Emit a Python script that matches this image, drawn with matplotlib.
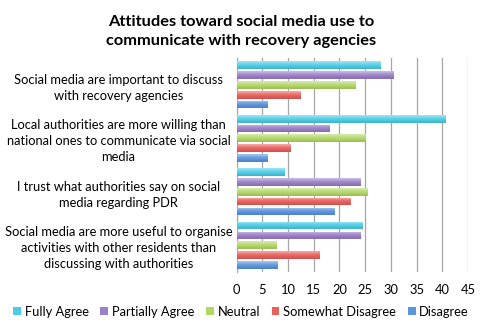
import matplotlib.pyplot as plt
import numpy as np
from matplotlib.colors import to_rgb

plt.rcParams["font.family"] = ["Lato", "DejaVu Sans"]

title = "Attitudes toward social media use to\ncommunicate with recovery agencies"
statements = [
    "Social media are important to discuss\nwith recovery agencies",
    "Local authorities are more willing than\nnational ones to communicate via social\nmedia",
    "I trust what authorities say on social\nmedia regarding PDR",
    "Social media are more useful to organise\nactivities with other residents than\ndiscussing with authorities",
]
responses = ["Fully Agree", "Partially Agree", "Neutral", "Somewhat Disagree", "Disagree"]
colors = ["#4ccde6", "#9a80c9", "#b3d767", "#e9605c", "#5b95dc"]

fully_agree = [28, 40.5, 9.3, 24.5]
partially_agree = [30.4, 18, 24, 24]
neutral = [23, 25, 25.4, 7.6]
somewhat_disagree = [12.4, 10.4, 22, 16]
disagree = [6, 6, 19, 7.8]
series = [fully_agree, partially_agree, neutral, somewhat_disagree, disagree]

fig = plt.figure(figsize=(4.82, 3.23), dpi=100)
ax = fig.add_axes([0.491, 0.158, 0.48, 0.662])

n = len(statements)
group_pos = np.arange(n)[::-1].astype(float)
step = 0.184
bar_h = 0.145


def shade(c, f):
    r, g, b = to_rgb(c)
    if f >= 0:
        return (r + (1 - r) * f, g + (1 - g) * f, b + (1 - b) * f)
    return (r * (1 + f), g * (1 + f), b * (1 + f))


for i, (vals, col) in enumerate(zip(series, colors)):
    y = group_pos + (2 - i) * step
    bars = ax.barh(y, vals, height=bar_h, color=col, label=responses[i], zorder=2)
    # glossy vertical gradient over each bar
    grad = np.array([shade(col, 0.45), shade(col, 0.1), shade(col, 0.0), shade(col, -0.12)])
    grad = grad.reshape(-1, 1, 3)
    for b in bars:
        x0, y0 = b.get_x(), b.get_y()
        im = ax.imshow(grad, extent=(x0, x0 + b.get_width(), y0, y0 + b.get_height()),
                       aspect="auto", interpolation="bicubic", origin="upper", zorder=3)
        im.set_clip_path(b)

ax.set_xlim(0, 45)
ax.set_ylim(-0.5, n - 0.5)
ax.set_xticks(np.arange(0, 46, 5))
ax.set_yticks(group_pos)
ax.set_yticklabels(statements, ha="center", fontsize=9.3, linespacing=1.4)
ax.tick_params(axis="y", length=0, pad=85)
ax.tick_params(axis="x", length=0, labelsize=9.3, pad=9)
ax.grid(axis="x", color="#a6a6a6", linewidth=0.9, zorder=0)
for s in ["top", "right", "bottom"]:
    ax.spines[s].set_visible(False)
ax.spines["left"].set_color("#a6a6a6")

fig.suptitle(title, x=0.5, y=0.955, fontsize=11.8, fontweight="bold", linespacing=1.5)

fig.legend(loc="lower center", bbox_to_anchor=(0.5, -0.02), ncol=5, frameon=False,
           fontsize=9.3, handlelength=0.6, handleheight=0.6, handletextpad=0.3,
           columnspacing=0.9)

fig.savefig("out.png", dpi=100)
